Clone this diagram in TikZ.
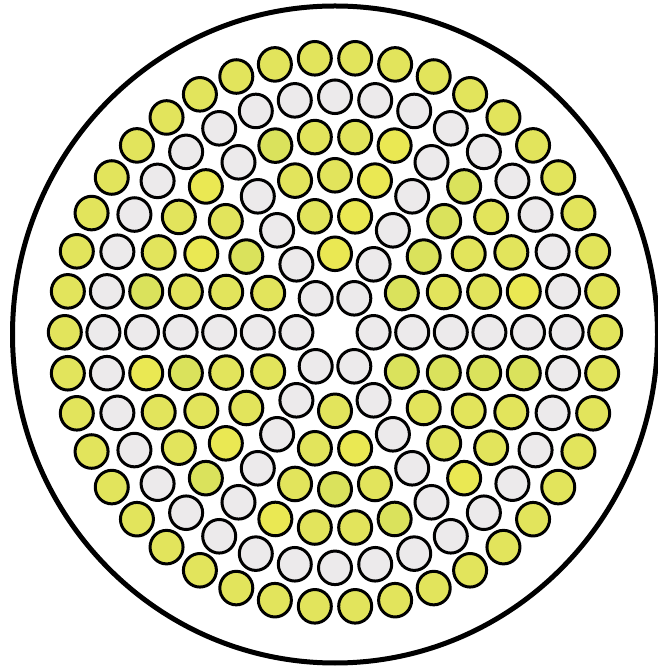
\documentclass[tikz,border=0pt]{standalone}
\usepackage{xcolor}
\usepackage{tikz}

\definecolor{fibreyellow}{HTML}{E2E45C}
\definecolor{fibrebright}{HTML}{EAE853}
\definecolor{fibregreen}{HTML}{DAE25C}
\definecolor{fibregrey}{HTML}{ECEAEB}

\begin{document}
\begin{tikzpicture}[
  x=1pt, y=1pt,
  fibre/.style={draw=black, line width=3pt},
  sheath/.style={draw=black, line width=5pt},
  ]
  \useasboundingbox (0,0) rectangle (657,667);
  % outer sheath
  \draw[sheath] (335,332.5) ellipse [x radius=322.5, y radius=328.5];
  % rings of fibres, ring k holds 6k fibres
  \begin{scope}[shift={(335,334.7)}, yscale=1.017]
    \foreach \k in {1,...,7} {
      \pgfmathtruncatemacro{\n}{6*\k}
      \pgfmathtruncatemacro{\last}{\n-1}
      \foreach \i in {0,...,\last} {
        \pgfmathtruncatemacro{\isgrey}{or(\k==6, and(\k<7, mod(\i,\k)==0))}
        \pgfmathtruncatemacro{\shade}{\k==7 ? 0 : mod(\i*7+\k*3,5)}
        \ifnum\isgrey=1 \def\col{fibregrey}
        \else\ifnum\shade=2 \def\col{fibrebright}
        \else\ifnum\shade=3 \def\col{fibregreen}
        \else \def\col{fibreyellow}\fi\fi\fi
        \draw[fibre, fill=\col] (\i*360/\n:\k*38.6) circle [radius=16.5];
      }
    }
  \end{scope}
\end{tikzpicture}
\end{document}
